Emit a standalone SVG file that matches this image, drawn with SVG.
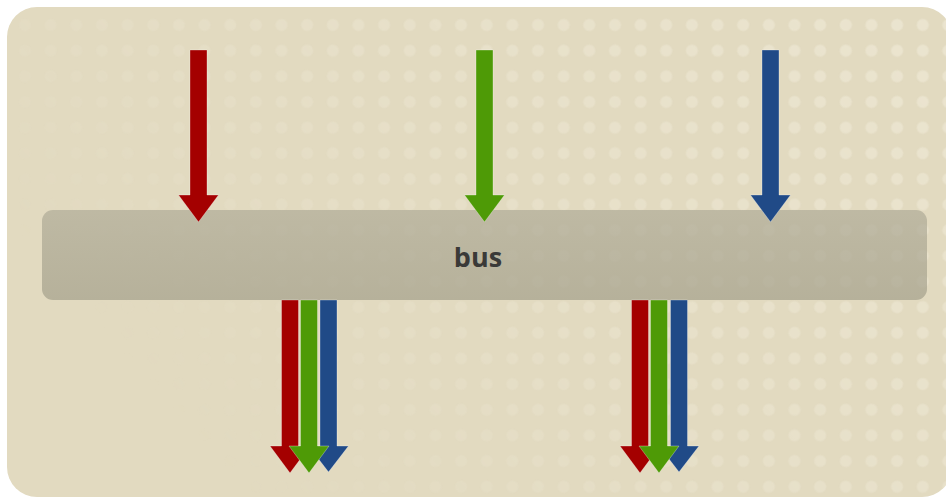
<svg xmlns="http://www.w3.org/2000/svg" width="946" height="497" viewBox="0 0 946 497">
  <style>
    .label { font-family: "Open Sans", "DejaVu Sans", sans-serif; font-weight: bold; font-size: 27px; fill: #3a3a38; text-anchor: middle; }
    .arrow { stroke: #ffffff; stroke-opacity: 0.3; stroke-width: 1; }
    .red { fill: #a40000; }
    .green { fill: #4e9a06; }
    .blue { fill: #204a87; }
  </style>
  <defs>
    <radialGradient id="dotgrad">
      <stop offset="0" stop-color="#ede7d3" stop-opacity="1"/>
      <stop offset="0.7" stop-color="#ede7d3" stop-opacity="1"/>
      <stop offset="1" stop-color="#ede7d3" stop-opacity="0"/>
    </radialGradient>
    <pattern id="dots" patternUnits="userSpaceOnUse" x="12.175" y="12.175" width="25.65" height="25.65">
      <circle cx="12.825" cy="12.825" r="7" fill="url(#dotgrad)"/>
    </pattern>
    <linearGradient id="fade" gradientUnits="userSpaceOnUse" x1="946" y1="0" x2="300" y2="560">
      <stop offset="0" stop-color="#fff" stop-opacity="0.8"/>
      <stop offset="0.55" stop-color="#fff" stop-opacity="0.45"/>
      <stop offset="1" stop-color="#fff" stop-opacity="0"/>
    </linearGradient>
    <mask id="dotmask">
      <rect x="0" y="0" width="946" height="497" fill="url(#fade)"/>
    </mask>
    <linearGradient id="busfill" x1="0" y1="0" x2="0" y2="1">
      <stop offset="0" stop-color="#afab97" stop-opacity="0.7"/>
      <stop offset="1" stop-color="#a5a18c" stop-opacity="0.72"/>
    </linearGradient>
  </defs>

  <g id="background">
    <rect x="0" y="0" width="946" height="497" fill="#ffffff"/>
    <rect x="7" y="7" width="945" height="490" rx="30" ry="30" fill="#e2dac0"/>
    <rect x="7" y="7" width="945" height="490" rx="30" ry="30" fill="url(#dots)" mask="url(#dotmask)"/>
  </g>

  <g id="bus">
    <rect x="42" y="210" width="885" height="90" rx="11" ry="11" fill="url(#busfill)"/>
    <text class="label" x="478" y="267">bus</text>
  </g>

  <g id="connectors">
    <g id="in-red"><polygon class="arrow red" points="190,50 207,50 207,195 218.5,195 198.5,222 178.5,195 190,195"/></g>
    <g id="in-green"><polygon class="arrow green" points="476,50 493,50 493,195 504.5,195 484.5,222 464.5,195 476,195"/></g>
    <g id="in-blue"><polygon class="arrow blue" points="762,50 779,50 779,195 790.5,195 770.5,222 750.5,195 762,195"/></g>

    <g id="out-left">
      <polygon class="arrow red" points="281.5,300 298.5,300 298.5,446 310,446 290,473 270,446 281.5,446"/>
      <polygon class="arrow blue" points="320,300 337,300 337,446 348.5,446 328.5,472 308.5,446 320,446"/>
      <polygon class="arrow green" points="300.5,300 317.5,300 317.5,446 329,446 309,473 289,446 300.5,446"/>
    </g>
    <g id="out-right">
      <polygon class="arrow red" points="631.5,300 648.5,300 648.5,446 660,446 640,473 620,446 631.5,446"/>
      <polygon class="arrow blue" points="670.5,300 687.5,300 687.5,446 699,446 679,472 659,446 670.5,446"/>
      <polygon class="arrow green" points="650.5,300 667.5,300 667.5,446 679,446 659,473 639,446 650.5,446"/>
    </g>
  </g>
</svg>
